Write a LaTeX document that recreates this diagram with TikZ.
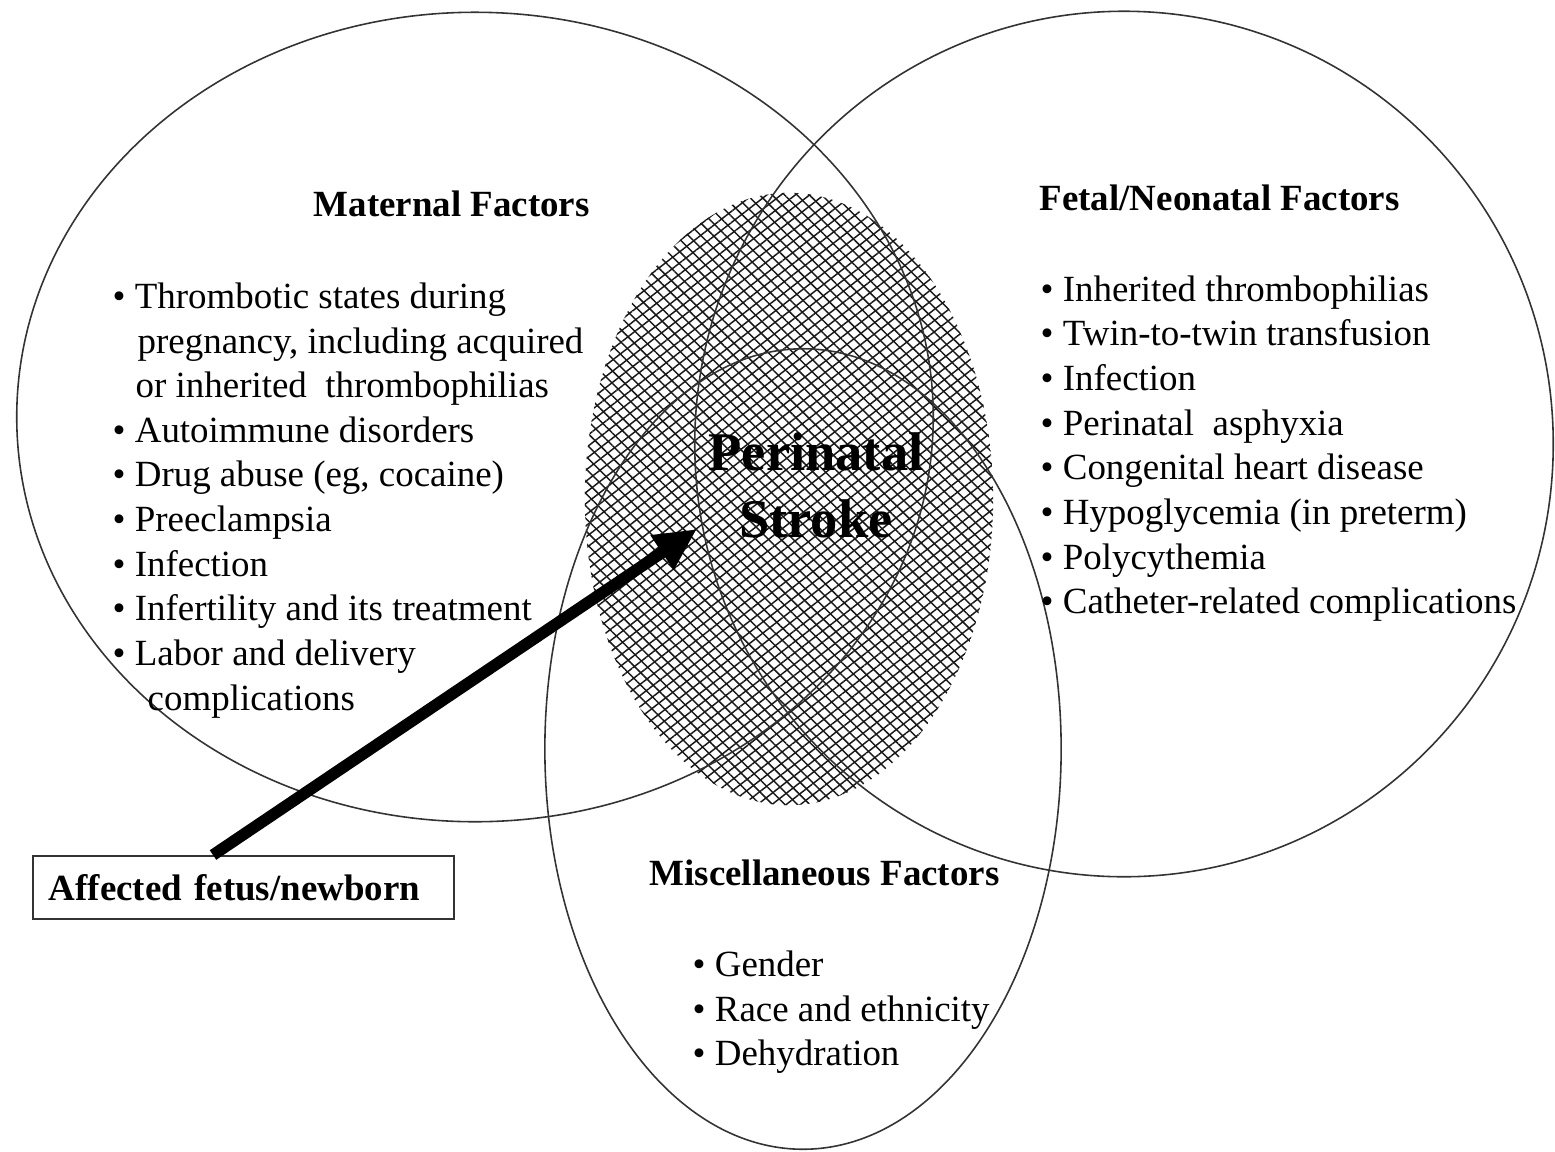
\documentclass[tikz,border=0pt]{standalone}
\usepackage{fontspec}
\setmainfont{Liberation Serif}
\usetikzlibrary{shapes,arrows.meta,patterns.meta}

\begin{document}
\begin{tikzpicture}
[x=0.01cm,y=-0.01cm]
\tikzset{
	circ/.style = {ellipse, draw=black!80, line width=0.45pt, inner sep=0},
	mesh/.style = {ellipse, inner sep=0, pattern color=black!90,
		pattern={Lines[angle=38,distance=2.5pt,line width=0.42pt]},
		postaction={pattern color=black!90, pattern={Lines[angle=-45,distance=2.5pt,line width=0.42pt]}}},
	heading/.style = {font=\fontsize{10.5}{12.7}\selectfont\bfseries, inner sep=0, anchor=base west},
	factors/.style = {font=\fontsize{10.5}{12.7}\selectfont, align=left, inner sep=0, anchor=north west},
	pointer/.style = {line width=3.3pt, -{Triangle[length=12pt,width=11pt]}}
}
\useasboundingbox (0,0) rectangle (1555,1151);

% overlap in the middle
\node (core) [mesh, minimum width=4.08cm, minimum height=6.12cm] at (789,499) {};

% the three sets
\node (maternal) [circ, minimum width=9.16cm, minimum height=8.09cm] at (475,417) {};
\node (fetal) [circ, minimum width=8.58cm, minimum height=8.65cm] at (1124,444) {};
\node (misc) [circ, minimum width=5.16cm, minimum height=8.0cm] at (803,749) {};

\node (stroke) [font=\fontsize{15.5}{19}\selectfont\bfseries, align=center, inner sep=0] at (816,485) {Perinatal\\Stroke};

% maternal
\node (matHead) [heading] at (313,216) {Maternal Factors};
\node (matList) [factors] at (112,282) {%
	\textbullet\ Thrombotic states during\\
	\hspace*{0.25cm}pregnancy, including acquired\\
	\hspace*{0.23cm}or inherited\ \ thrombophilias\\
	\textbullet\ Autoimmune disorders\\
	\textbullet\ Drug abuse (eg, cocaine)\\
	\textbullet\ Preeclampsia\\
	\textbullet\ Infection\\
	\textbullet\ Infertility and its treatment\\
	\textbullet\ Labor and delivery\\
	\hspace*{0.35cm}complications};

% fetal / neonatal
\node (fetHead) [heading] at (1039,210) {Fetal/Neonatal Factors};
\node (fetList) [factors] at (1040,275) {%
	\textbullet\ Inherited thrombophilias\\
	\textbullet\ Twin-to-twin transfusion\\
	\textbullet\ Infection\\
	\textbullet\ Perinatal\ \ asphyxia\\
	\textbullet\ Congenital heart disease\\
	\textbullet\ Hypoglycemia (in preterm)\\
	\textbullet\ Polycythemia\\
	\textbullet\ Catheter-related complications};

% miscellaneous
\node (miscHead) [heading] at (649,885) {Miscellaneous Factors};
\node (miscList) [factors] at (692,950) {%
	\textbullet\ Gender\\
	\textbullet\ Race and ethnicity\\
	\textbullet\ Dehydration};

% who is affected
\node (box) [draw=black!80, line width=0.5pt, anchor=north west, inner xsep=0.16cm, inner ysep=0,
	text width=3.89cm, minimum height=0.63cm, align=left,
	font=\fontsize{10.5}{12.7}\selectfont\bfseries] at (32,855) {Affected\ fetus/newborn};
\coordinate (tip) at (697,529);
\draw[pointer] (box.north west) ++(181,0) -- (tip);

\end{tikzpicture}
\end{document}
